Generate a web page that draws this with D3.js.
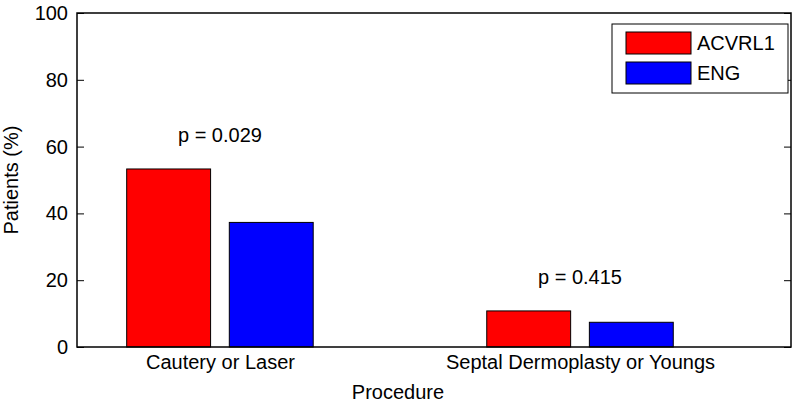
<!DOCTYPE html>
<html>
<head>
<meta charset="utf-8">
<script src="https://cdn.jsdelivr.net/npm/d3@7"></script>
<style>
  body { margin: 0; background: #fff; }
  svg { display: block; font-family: "Liberation Sans", Arial, sans-serif; }
</style>
</head>
<body>
<svg id="chart" width="800" height="402"></svg>
<script>
const categories = ["Cautery or Laser", "Septal Dermoplasty or Youngs"];
const seriesNames = ["ACVRL1", "ENG"];
const acvrl1Values = [53.3, 10.8];
const engValues = [37.3, 7.4];
const pLabels = ["p = 0.029", "p = 0.415"];
const yTicks = [0, 20, 40, 60, 80, 100];
const colors = ["#ff0000", "#0000ff"];

const svg = d3.select("#chart");
const plotLeft = 77, plotRight = 791, plotTop = 13, plotBottom = 347;

const x = d3.scaleLinear().domain([0.603, 2.586]).range([plotLeft, plotRight]);
const y = d3.scaleLinear().domain([0, 100]).range([plotBottom, plotTop]);

const barW = 0.233, offset = 0.1425;
const series = [acvrl1Values, engValues];

// bars
series.forEach((vals, si) => {
  svg.append("g").selectAll("rect").data(vals).enter().append("rect")
    .attr("x", (d, i) => x(i + 1 + (si === 0 ? -offset : offset) - barW / 2))
    .attr("width", (d, i) => x(i + 1 + barW / 2) - x(i + 1 - barW / 2))
    .attr("y", d => y(d))
    .attr("height", d => y(0) - y(d))
    .attr("fill", colors[si])
    .attr("stroke", "#000")
    .attr("stroke-width", 1);
});

// p annotations
svg.append("g").selectAll("text").data(pLabels).enter().append("text")
  .attr("x", (d, i) => x(i + 1))
  .attr("y", (d, i) => y(Math.max(acvrl1Values[i], engValues[i]) + 8))
  .attr("text-anchor", "middle")
  .attr("font-size", 20)
  .attr("fill", "#000")
  .text(d => d);

// y axis left
const yAxis = d3.axisLeft(y).tickValues(yTicks).tickSizeInner(-7).tickSizeOuter(0).tickPadding(9);
const gy = svg.append("g").attr("transform", `translate(${plotLeft},0)`).call(yAxis);
gy.select(".domain").remove();
gy.selectAll("text").attr("font-size", 20).attr("font-family", "Liberation Sans, Arial, sans-serif").attr("fill", "#000");
gy.selectAll("line").attr("stroke", "#000");

// y axis right (mirrored ticks)
const yAxisR = d3.axisRight(y).tickValues(yTicks).tickSizeInner(-7).tickSizeOuter(0).tickFormat("");
const gyr = svg.append("g").attr("transform", `translate(${plotRight},0)`).call(yAxisR);
gyr.select(".domain").remove();
gyr.selectAll("line").attr("stroke", "#000");

// x axis labels
const xAxis = d3.axisBottom(x).tickValues([1, 2]).tickSize(0).tickPadding(8)
  .tickFormat(d => categories[d - 1]);
const gx = svg.append("g").attr("transform", `translate(0,${plotBottom})`).call(xAxis);
gx.select(".domain").remove();
gx.selectAll("text").attr("font-size", 20).attr("font-family", "Liberation Sans, Arial, sans-serif").attr("fill", "#000");

// box
svg.append("rect")
  .attr("x", plotLeft).attr("y", plotTop)
  .attr("width", plotRight - plotLeft).attr("height", plotBottom - plotTop)
  .attr("fill", "none").attr("stroke", "#000").attr("stroke-width", 1.5);

// axis titles
svg.append("text")
  .attr("x", 398).attr("y", 399)
  .attr("text-anchor", "middle").attr("font-size", 20).attr("fill", "#000")
  .text("Procedure");
svg.append("text")
  .attr("transform", `translate(18,${(plotTop + plotBottom) / 2}) rotate(-90)`)
  .attr("text-anchor", "middle").attr("font-size", 20).attr("fill", "#000")
  .text("Patients (%)");

// legend
const lg = svg.append("g");
lg.append("rect").attr("x", 612).attr("y", 24).attr("width", 176).attr("height", 69)
  .attr("fill", "#fff").attr("stroke", "#000").attr("stroke-width", 1);
seriesNames.forEach((name, i) => {
  const cy = 43 + i * 30;
  lg.append("rect").attr("x", 626).attr("y", cy - 11).attr("width", 65).attr("height", 22)
    .attr("fill", colors[i]).attr("stroke", "#000").attr("stroke-width", 1);
  lg.append("text").attr("x", 697).attr("y", cy).attr("dy", "0.36em")
    .attr("font-size", 20).attr("fill", "#000").text(name);
});
</script>
</body>
</html>
